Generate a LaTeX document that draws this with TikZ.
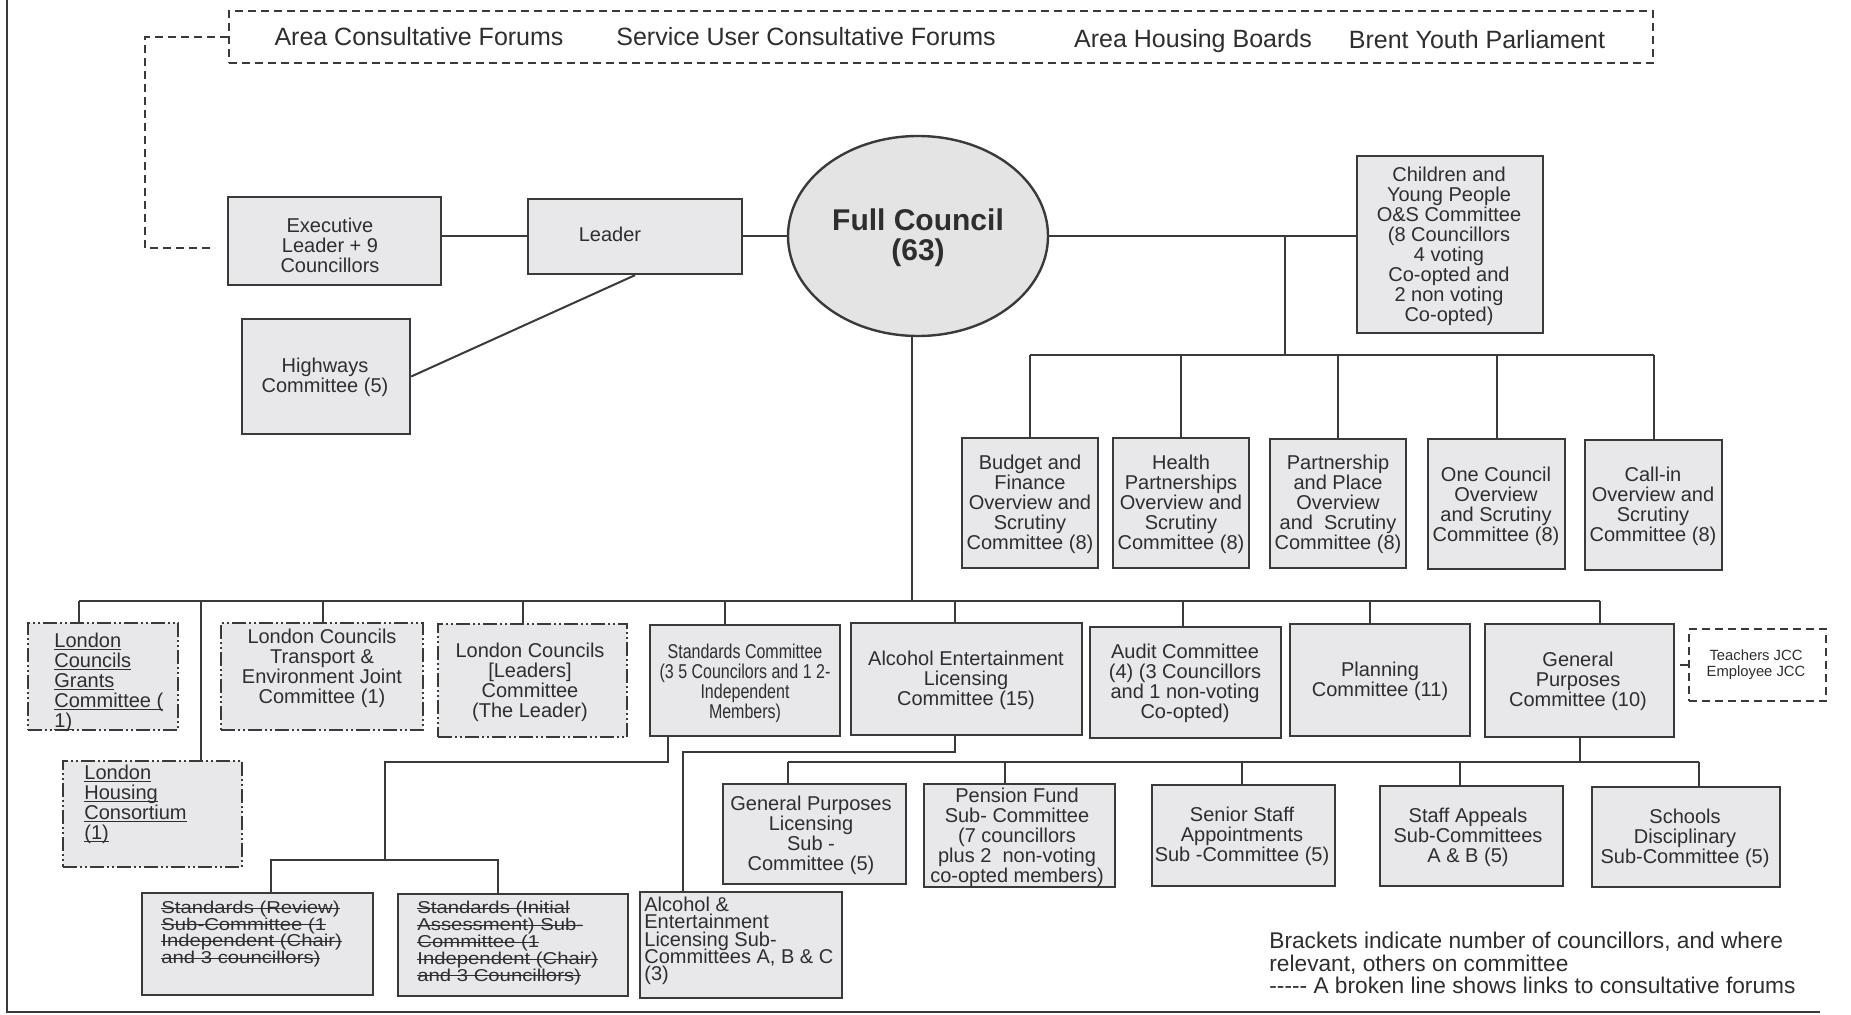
\documentclass[tikz,border=0pt]{standalone}
\usepackage{fontspec}
\setmainfont{Liberation Sans}
\newfontfamily\condfont[FakeStretch=0.8]{Liberation Sans}
\newfontfamily\widefont[FakeStretch=1.18]{Liberation Sans}
\usetikzlibrary{shapes.geometric}
\definecolor{ln}{HTML}{3A3A3A}
\definecolor{bxf}{HTML}{E8E8EA}
\definecolor{elf}{HTML}{E4E4E5}
\definecolor{tx}{HTML}{2E2E2E}
\newcommand\tightls{\lineskiplimit=-20pt\relax}
\newcommand\myul[1]{\leavevmode\setbox0=\hbox{#1}\copy0\kern-\wd0\rule[-1.6pt]{\wd0}{0.6pt}}
\newcommand\mysout[1]{\leavevmode\setbox0=\hbox{#1}\copy0\kern-\wd0\rule[2.3pt]{\wd0}{0.55pt}}
\newcommand\mkbox[6]{\node[#6, minimum width={(#4-#2)*0.5pt}, minimum height={(#5-#3)*0.5pt}] (#1) at ({(#2+#4)/2},{(#3+#5)/2}) {};}
\tikzset{
  box/.style={draw=ln, line width=1.2pt, fill=bxf, inner sep=0pt},
  dbox/.style={box, dash pattern=on 7pt off 1.5pt on 1pt off 1.5pt on 1pt off 1.5pt},
  forumbox/.style={draw=ln, line width=1pt, dash pattern=on 4pt off 2.5pt, inner sep=0pt},
  conn/.style={draw=ln, line width=1pt},
  dconn/.style={draw=ln, line width=1pt, dash pattern=on 4pt off 2.5pt},
  txt/.style={inner sep=0pt, align=center, text=tx, font=\fontsize{10pt}{10pt}\selectfont\tightls},
  ltxt/.style={txt, align=left, anchor=west},
  stxt/.style={ltxt, font=\fontsize{10pt}{8.6pt}\selectfont\tightls},
  strk/.style={ltxt, font=\widefont\fontsize{8.6pt}{8.4pt}\selectfont\tightls},
  toptxt/.style={inner sep=0pt, anchor=base, text=tx, font=\fontsize{12.5pt}{13pt}\selectfont},
}
\begin{document}
\begin{tikzpicture}[x=0.5pt,y=-0.5pt]
\fill[white] (0,0) rectangle (1851,1015);
\useasboundingbox (0,0) rectangle (1851,1015);
\draw[ln, line width=1pt] (7,0) -- (7,1012) -- (1820,1012);

% boxes
\mkbox{forums}{229}{11}{1653}{63}{forumbox}
\mkbox{exec}{228}{197}{441}{285}{box}
\mkbox{leader}{528}{199}{742}{274}{box}
\mkbox{hwy}{242}{319}{410}{434}{box}
\mkbox{child}{1357}{156}{1543}{333}{box}
\mkbox{budget}{962}{438}{1098}{568}{box}
\mkbox{health}{1113}{438}{1249}{568}{box}
\mkbox{partner}{1270}{439}{1406}{568}{box}
\mkbox{onec}{1428}{439}{1565}{569}{box}
\mkbox{callin}{1585}{440}{1722}{570}{box}
\mkbox{grants}{28}{623}{178}{730}{dbox}
\mkbox{housing}{63}{761}{242}{867}{dbox}
\mkbox{transport}{221}{623}{423}{730}{dbox}
\mkbox{leaders}{438}{624}{627}{737}{dbox}
\mkbox{std}{650}{625}{840}{736}{box}
\mkbox{alc}{851}{623}{1082}{735}{box}
\mkbox{audit}{1090}{627}{1281}{738}{box}
\mkbox{plan}{1290}{624}{1470}{736}{box}
\mkbox{gp}{1485}{624}{1674}{737}{box}
\mkbox{jcc}{1689}{629}{1826}{701}{forumbox}
\mkbox{review}{142}{893}{373}{995}{box}
\mkbox{initial}{398}{894}{628}{996}{box}
\mkbox{alcsub}{640}{892}{842}{998}{box}
\mkbox{gpl}{723}{784}{906}{884}{box}
\mkbox{pension}{924}{784}{1115}{887}{box}
\mkbox{senior}{1152}{785}{1335}{886}{box}
\mkbox{appeals}{1380}{786}{1563}{886}{box}
\mkbox{schools}{1592}{787}{1780}{887}{box}
\node[ellipse, draw=ln, line width=1.2pt, fill=elf, minimum width=130pt, minimum height=100pt, inner sep=0pt] (fc) at (918,236) {};

% texts
\node[toptxt] (t-f1) at (419,46) {Area Consultative Forums};
\node[toptxt] (t-f2) at (806,46) {Service User Consultative Forums};
\node[toptxt] (t-f3) at (1193,48) {Area Housing Boards};
\node[toptxt] (t-f4) at (1477,49) {Brent Youth Parliament};
\node[txt] (t-exec) at (330,245) {Executive\\Leader + 9\\Councillors};
\node[txt] (t-leader) at (610,234) {Leader};
\node[txt, font=\bfseries\fontsize{15pt}{15pt}\selectfont] (t-fc) at (918,238) {Full Council\\(63)};
\node[txt] (t-hwy) at (325,377) {Highways\\Committee (5)};
\node[txt] (t-child) at (1449,246) {Children and\\Young People\\O\&S Committee\\(8 Councillors\\4 voting\\Co-opted and\\2 non voting\\Co-opted)};
\node[txt] (t-budget) at (1030,504) {Budget and\\Finance\\Overview and\\Scrutiny\\Committee (8)};
\node[txt] (t-health) at (1181,504) {Health\\Partnerships\\Overview and\\Scrutiny\\Committee (8)};
\node[txt] (t-partner) at (1338,504) {Partnership\\and Place\\Overview\\and\ \ Scrutiny\\Committee (8)};
\node[txt] (t-onec) at (1496,506) {One Council\\Overview\\and Scrutiny\\Committee (8)};
\node[txt] (t-callin) at (1653,506) {Call-in\\Overview and\\Scrutiny\\Committee (8)};
\node[ltxt] (t-grants) at (54,682) {\myul{London}\\\myul{Councils}\\\myul{Grants}\\\myul{Committee (}\\\myul{1)}};
\node[ltxt] (t-housing) at (84,804) {\myul{London}\\\myul{Housing}\\\myul{Consortium}\\\myul{(1)}};
\node[txt] (t-transport) at (322,668) {London Councils\\Transport \&\\Environment Joint\\Committee (1)};
\node[txt] (t-leaders) at (530,682) {London Councils\\{[Leaders]}\\Committee\\(The Leader)};
\node[txt, font=\condfont\fontsize{10pt}{10pt}\selectfont] (t-std) at (745,683) {Standards Committee\\(3 5 Councilors and 1 2-\\Independent\\Members)};
\node[txt] (t-alc) at (966,680) {Alcohol Entertainment\\Licensing\\Committee (15)};
\node[txt] (t-audit) at (1185,683) {Audit Committee\\(4) (3 Councillors\\and 1 non-voting\\Co-opted)};
\node[txt] (t-plan) at (1380,681) {Planning\\Committee (11)};
\node[txt] (t-gp) at (1578,681) {General\\Purposes\\Committee (10)};
\node[txt, font=\fontsize{7.4pt}{8pt}\selectfont] (t-jcc) at (1756,665) {Teachers JCC\\Employee JCC};
\node[strk] (t-review) at (161,934) {\mysout{Standards (Review)}\\\mysout{Sub-Committee (1}\\\mysout{Independent (Chair)}\\\mysout{and 3 councillors)}};
\node[strk] (t-initial) at (417,943) {\mysout{Standards (Initial}\\\mysout{Assessment) Sub-}\\\mysout{Committee (1}\\\mysout{Independent (Chair)}\\\mysout{and 3 Councillors)}};
\node[stxt] (t-alcsub) at (644,941) {Alcohol \&\\Entertainment\\Licensing Sub-\\Committees A, B \& C\\(3)};
\node[txt] (t-gpl) at (811,835) {General Purposes\\Licensing\\Sub -\\Committee (5)};
\node[txt] (t-pension) at (1017,837) {Pension Fund\\Sub- Committee\\(7 councillors\\plus 2\ \ non-voting\\co-opted members)};
\node[txt] (t-senior) at (1242,836) {Senior Staff\\Appointments\\Sub -Committee (5)};
\node[txt] (t-appeals) at (1468,837) {Staff Appeals\\Sub-Committees\\A \& B (5)};
\node[txt] (t-schools) at (1685,838) {Schools\\Disciplinary\\Sub-Committee (5)};
\node[ltxt, font=\fontsize{11.35pt}{11.2pt}\selectfont\tightls] (t-legend) at (1269,963) {Brackets indicate number of councillors, and where\\relevant, others on committee\\-{}-{}-{}-{}- A broken line shows links to consultative forums};

% junction coordinates
\coordinate (dcorner) at (145,248);
\coordinate (dend) at (215,248);
\coordinate (j1) at (1285,237);
\coordinate (bus1) at (1285,355);
\coordinate (fcd) at (912,601);
\coordinate (b-grants) at (79,601);
\coordinate (b-housing) at (201,601);
\coordinate (b-transport) at (323,601);
\coordinate (b-leaders) at (523,601);
\coordinate (b-std) at (725,601);
\coordinate (b-alc) at (955,601);
\coordinate (b-audit) at (1183,601);
\coordinate (b-plan) at (1370,601);
\coordinate (b-gp) at (1600,601);
\coordinate (s1) at (668,762);
\coordinate (s2) at (385,860);
\coordinate (r1) at (271,860);
\coordinate (i1) at (498,860);
\coordinate (a1) at (955,752);
\coordinate (a2) at (683,752);
\coordinate (g1) at (1580,762);
\coordinate (g-gpl) at (788,762);
\coordinate (g-pension) at (1005,762);
\coordinate (g-senior) at (1242,762);
\coordinate (g-appeals) at (1460,762);
\coordinate (g-schools) at (1699,762);

% connectors
\draw[dconn] (forums.west) -| (dcorner) -- (dend);
\draw[conn] (leader.west) -- (leader.west -| exec.east);
\draw[conn] (fc.west) -- (fc.west -| leader.east);
\draw[conn] (leader.south) -- (hwy.east);
\draw[conn] (fc.east) -- (fc.east -| child.west);
\draw[conn] (j1) -- (bus1);
\draw[conn] (budget.north |- bus1) -- (callin.north |- bus1);
\foreach \n in {budget,health,partner,onec,callin} \draw[conn] (\n.north |- bus1) -- (\n.north);
\draw[conn] (fc.south -| fcd) -- (fcd);
\draw[conn] (b-grants) -- (b-gp);
\foreach \n in {grants,housing,transport,leaders,std,alc,audit,plan,gp} \draw[conn] (b-\n) -- (b-\n |- \n.north);
\draw[conn] (std.south -| s1) -- (s1) -| (s2);
\draw[conn] (r1 |- review.north) -- (r1) -- (i1) -- (i1 |- initial.north);
\draw[conn] (alc.south -| a1) -- (a1) -- (a2) -- (a2 |- alcsub.north);
\draw[conn] (gp.south -| g1) -- (g1);
\draw[conn] (g-gpl) -- (g-schools);
\foreach \n in {gpl,pension,senior,appeals,schools} \draw[conn] (g-\n) -- (g-\n |- \n.north);
\draw[dconn] (jcc.west) -- (jcc.west -| gp.east);
\end{tikzpicture}
\end{document}
